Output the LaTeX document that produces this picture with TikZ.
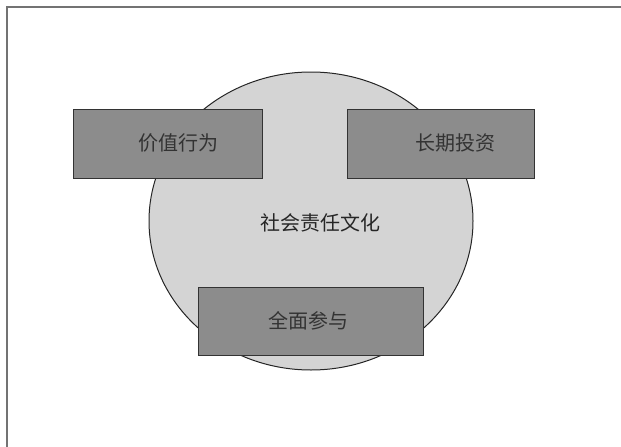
\documentclass[tikz,border=0pt]{standalone}
\usepackage{fontspec}
\setmainfont{Noto Sans CJK SC}
\begin{document}
\begin{tikzpicture}[x=1pt,y=-1pt]
        \useasboundingbox (0,0) rectangle (621,447);
        \coordinate (A1) at (73,109);
        \coordinate (A2) at (262,178);
        \coordinate (B1) at (347,109);
        \coordinate (B2) at (534,178);
        \coordinate (C1) at (198,287);
        \coordinate (C2) at (423,355);
        \coordinate (O) at (311,221);
        \draw [black!55, line width=1.3pt] (7,447) -- (7,7) -- (621,7);
        \filldraw [fill=black!17, draw=black!85, line width=1pt] (O) ellipse [x radius=162, y radius=149];
        \filldraw [fill=black!45, draw=black!80, line width=1pt] (A1) rectangle (A2);
        \filldraw [fill=black!45, draw=black!80, line width=1pt] (B1) rectangle (B2);
        \filldraw [fill=black!45, draw=black!80, line width=1pt] (C1) rectangle (C2);
        \node [font=\fontsize{20}{20}\selectfont, text=black!80] (jzxw) at (178,143) {价值行为};
        \node [font=\fontsize{20}{20}\selectfont, text=black!80] (cqtz) at (455,143) {长期投资};
        \node [font=\fontsize{20}{20}\selectfont, text=black!80] (qmcy) at (308,321) {全面参与};
        \node [font=\fontsize{20}{20}\selectfont, text=black!85] (shzr) at (320,223) {社会责任文化};

    \end{tikzpicture}
\end{document}
